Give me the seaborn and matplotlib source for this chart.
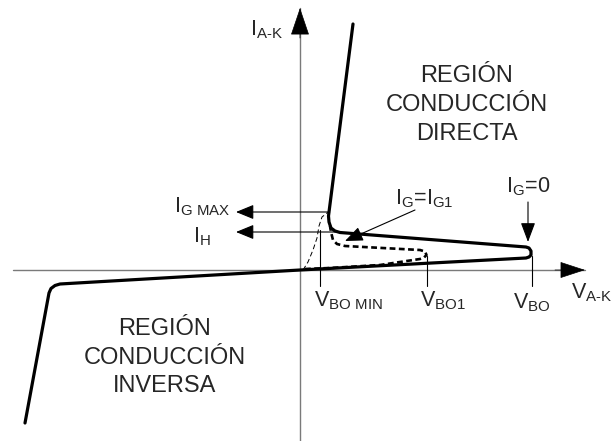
import matplotlib
matplotlib.use("Agg")
import matplotlib.pyplot as plt
import seaborn as sns
import pandas as pd

sns.set_style("white")
plt.rcParams["font.family"] = ["Liberation Sans", "DejaVu Sans"]
plt.rcParams["mathtext.fontset"] = "custom"
plt.rcParams["mathtext.rm"] = "Liberation Sans"
plt.rcParams["mathtext.it"] = "Liberation Sans"
plt.rcParams["mathtext.bf"] = "Liberation Sans:bold"
plt.rcParams["mathtext.default"] = "regular"

# ---- data (V_AK, I_AK) in diagram units, origin at axes crossing ----
main_v = [-275, -251, -249, -245, -240, 0, 226, 229, 231, 231, 229, 226, 40, 35, 31, 29, 28.5, 53]
main_i = [-153, -23, -18.5, -15.5, -14, 0, 12, 13, 15, 19, 22, 23, 37.5, 39, 42, 48, 54, 246]

ig1_v = [5, 30, 80, 120, 124, 126.5, 125, 120, 45, 37, 33, 31, 30]
ig1_i = [1, 2, 5, 11, 12.5, 15, 18.5, 20, 24, 26, 30, 38, 44]

igmax_v = [3, 8, 13, 17, 19, 22, 27, 30]
igmax_i = [0, 8, 20, 32, 44, 53, 57, 58]

vmark_x = [20, 127, 232]
vmark_top = [40, 14, 14]
vmark_bot = [-16, -16, -16]
vmark_labels = [r"$V_{\text{BO MIN}}$", r"$V_{\text{BO1}}$", r"$V_{\text{BO}}$"]
vmark_label_x = [14, 120, 213]
vmark_label_y = [-36, -36, -38]

axis_v = [-287, 285]
axis_i = [-171, 262]

level_labels = [r"$I_{\text{G MAX}}$", r"$I_{\text{H}}$"]
level_i = [58, 38]
level_start = [28, 38]
level_tip = -64
level_label_x = [-126, -107]
level_label_y = [58, 28]

region_direct = ["REGIÓN", "CONDUCCIÓN", "DIRECTA"]
region_inverse = ["REGIÓN", "CONDUCCIÓN", "INVERSA"]

fig = plt.figure(figsize=(6.15, 4.41), dpi=100)
ax = fig.add_axes([0, 0, 1, 1])
ax.set_xlim(-300, 315)
ax.set_ylim(-171, 270)
ax.axis("off")

gray = "#7a7a7a"
# axes lines
sns.lineplot(x=axis_v, y=[0, 0], ax=ax, color=gray, lw=1.0, sort=False, estimator=None)
sns.lineplot(x=[0, 0], y=axis_i, ax=ax, color=gray, lw=1.0, sort=False, estimator=None)
ax.annotate("", xy=(axis_v[1], 0), xytext=(axis_v[1] - 30, 0),
            arrowprops=dict(arrowstyle="-|>,head_length=16.5,head_width=5.4",
                            mutation_scale=1, color="black", lw=0.5, shrinkA=0, shrinkB=0))
ax.annotate("", xy=(0, axis_i[1]), xytext=(0, axis_i[1] - 30),
            arrowprops=dict(arrowstyle="-|>,head_length=18,head_width=6.1",
                            mutation_scale=1, color="black", lw=0.5, shrinkA=0, shrinkB=0))

# curves
sns.lineplot(x=main_v, y=main_i, ax=ax, color="black", lw=2.3, sort=False, estimator=None,
             solid_joinstyle="round", solid_capstyle="round")
sns.lineplot(x=ig1_v, y=ig1_i, ax=ax, color="black", lw=1.9, sort=False, estimator=None,
             linestyle=(0, (2.2, 1.3)))
sns.lineplot(x=igmax_v, y=igmax_i, ax=ax, color="black", lw=0.7, sort=False, estimator=None,
             linestyle=(0, (5, 3)))

# breakover markers
for x, t, b, lab, lx, ly in zip(vmark_x, vmark_top, vmark_bot, vmark_labels,
                                vmark_label_x, vmark_label_y):
    sns.lineplot(x=[x, x], y=[t, b], ax=ax, color="black", lw=0.8, sort=False, estimator=None)
    ax.text(lx, ly, lab, fontsize=15.5, ha="left", va="baseline")

# current level arrows
for yi, xs, lab, lx, ly in zip(level_i, level_start, level_labels, level_label_x, level_label_y):
    ax.annotate("", xy=(level_tip, yi), xytext=(xs, yi),
                arrowprops=dict(arrowstyle="-|>,head_length=11,head_width=4.5",
                                mutation_scale=1, color="black", lw=0.8, shrinkA=0, shrinkB=0))
    ax.text(lx, ly, lab, fontsize=15.5, ha="left", va="baseline")

# IG = 0 arrow
ax.annotate("", xy=(228, 28), xytext=(228, 68),
            arrowprops=dict(arrowstyle="-|>,head_length=12,head_width=4.5",
                            mutation_scale=1, color="black", lw=0.8, shrinkA=0, shrinkB=0))
ax.text(206, 78, r"$I_{\text{G}}$=0", fontsize=15.5, ha="left", va="baseline")

# IG = IG1 arrow
ax.annotate("", xy=(45, 29), xytext=(115, 60),
            arrowprops=dict(arrowstyle="-|>,head_length=11,head_width=4.5",
                            mutation_scale=1, color="black", lw=0.8, shrinkA=0, shrinkB=0))
ax.text(95, 66, r"$I_{\text{G}}$=$I_{\text{G1}}$", fontsize=15.5, ha="left", va="baseline")

# axis labels
ax.text(-50, 235, r"$I_{\text{A-K}}$", fontsize=15.5, ha="left", va="baseline")
ax.text(271, -28, r"$V_{\text{A-K}}$", fontsize=15.5, ha="left", va="baseline")

# region labels
for k, line in enumerate(region_direct):
    ax.text(167, 188 - 29 * k, line, fontsize=17, ha="center", va="baseline")
for k, line in enumerate(region_inverse):
    ax.text(-135, -65 - 28.5 * k, line, fontsize=17, ha="center", va="baseline")

fig.savefig("out.png", dpi=100)
